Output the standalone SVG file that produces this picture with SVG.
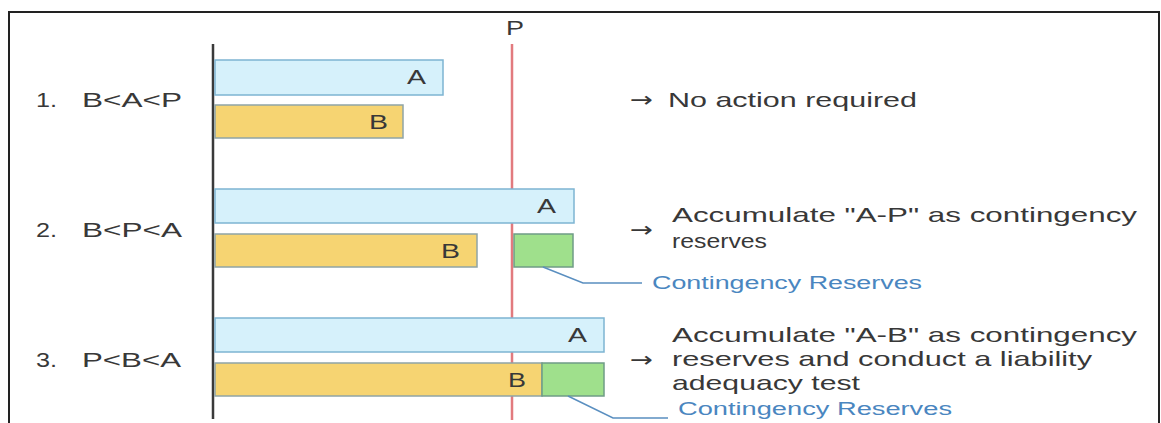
<svg xmlns="http://www.w3.org/2000/svg" width="1161" height="423" viewBox="0 0 1161 423">
  <style>
    .txt { font-family: "Liberation Sans", Arial, sans-serif; font-size: 21px; fill: #383838; }
    .arw { font-family: "DejaVu Sans", sans-serif; font-size: 21px; fill: #383838; }
    .lbl { font-family: "Liberation Sans", Arial, sans-serif; font-size: 20px; fill: #383838; }
    .note { font-family: "Liberation Sans", Arial, sans-serif; font-size: 18px; fill: #4a86c0; }
    .barA { fill: #d6f1fb; stroke: #7db4d2; stroke-width: 1.5; }
    .barB { fill: #f6d472; stroke: #8fa4a6; stroke-width: 1.5; }
    .res  { fill: #9fe08c; stroke: #6f9c86; stroke-width: 1.5; }
    .lead { fill: none; stroke: #5a8fc0; stroke-width: 1.5; }
  </style>

  <rect x="0" y="0" width="1161" height="423" fill="#ffffff"/>

  <!-- frame -->
  <path d="M9,425 V12 H1159 V425" fill="none" stroke="#222222" stroke-width="2"/>

  <!-- baseline axis and premium line -->
  <g id="axes">
    <line x1="213" y1="44" x2="213" y2="419" stroke="#3a3a3a" stroke-width="2.5"/>
    <line x1="512" y1="44" x2="512" y2="420" stroke="#e27a7e" stroke-width="2.5"/>
    <text class="lbl" x="506" y="35" font-size="19" textLength="18" lengthAdjust="spacingAndGlyphs">P</text>
  </g>

  <!-- case 1: B<A<P -->
  <g id="case1">
    <text class="txt" x="36" y="107" textLength="21" lengthAdjust="spacingAndGlyphs">1.</text>
    <text class="txt" x="82" y="107" textLength="100" lengthAdjust="spacingAndGlyphs">B&lt;A&lt;P</text>
    <rect class="barA" x="215" y="60" width="228" height="35"/>
    <text class="lbl" x="407" y="84" textLength="19" lengthAdjust="spacingAndGlyphs">A</text>
    <rect class="barB" x="215" y="105" width="188" height="33"/>
    <text class="lbl" x="369" y="129" textLength="19" lengthAdjust="spacingAndGlyphs">B</text>
    <text class="arw" x="630" y="107" textLength="23" lengthAdjust="spacingAndGlyphs">→</text>
    <text class="txt" x="668" y="107" textLength="249" lengthAdjust="spacingAndGlyphs">No action required</text>
  </g>

  <!-- case 2: B<P<A -->
  <g id="case2">
    <text class="txt" x="36" y="237" textLength="21" lengthAdjust="spacingAndGlyphs">2.</text>
    <text class="txt" x="82" y="237" textLength="100" lengthAdjust="spacingAndGlyphs">B&lt;P&lt;A</text>
    <rect class="barA" x="215" y="189" width="359" height="34"/>
    <text class="lbl" x="537" y="213" textLength="19" lengthAdjust="spacingAndGlyphs">A</text>
    <rect class="barB" x="215" y="234" width="262" height="33"/>
    <rect class="res" x="514" y="234" width="59" height="33"/>
    <text class="lbl" x="441" y="258" textLength="19" lengthAdjust="spacingAndGlyphs">B</text>
    <text class="arw" x="630" y="237" textLength="23" lengthAdjust="spacingAndGlyphs">→</text>
    <text class="txt" x="672" y="222" textLength="465" lengthAdjust="spacingAndGlyphs">Accumulate "A-P" as contingency</text>
    <text class="txt" x="672" y="248" textLength="95" lengthAdjust="spacingAndGlyphs">reserves</text>
    <text class="note" x="652" y="289" textLength="270" lengthAdjust="spacingAndGlyphs">Contingency Reserves</text>
  </g>

  <!-- case 3: P<B<A -->
  <g id="case3">
    <text class="txt" x="36" y="367" textLength="21" lengthAdjust="spacingAndGlyphs">3.</text>
    <text class="txt" x="82" y="367" textLength="99" lengthAdjust="spacingAndGlyphs">P&lt;B&lt;A</text>
    <rect class="barA" x="215" y="318" width="389" height="34"/>
    <text class="lbl" x="568" y="342" textLength="19" lengthAdjust="spacingAndGlyphs">A</text>
    <rect class="barB" x="215" y="363" width="327" height="33"/>
    <rect class="res" x="542" y="363" width="62" height="33"/>
    <text class="lbl" x="508" y="387" textLength="18" lengthAdjust="spacingAndGlyphs">B</text>
    <text class="arw" x="630" y="367" textLength="23" lengthAdjust="spacingAndGlyphs">→</text>
    <text class="txt" x="672" y="342" textLength="465" lengthAdjust="spacingAndGlyphs">Accumulate "A-B" as contingency</text>
    <text class="txt" x="672" y="366" textLength="420" lengthAdjust="spacingAndGlyphs">reserves and conduct a liability</text>
    <text class="txt" x="672" y="390" textLength="188" lengthAdjust="spacingAndGlyphs">adequacy test</text>
    <text class="note" x="678" y="415" textLength="274" lengthAdjust="spacingAndGlyphs">Contingency Reserves</text>
  </g>

  <!-- leader lines from the reserve boxes to their captions -->
  <g id="connectors">
    <path class="lead" d="M543,267 L583,283 H642"/>
    <path class="lead" d="M568,396 L613,418 H668"/>
  </g>
</svg>
